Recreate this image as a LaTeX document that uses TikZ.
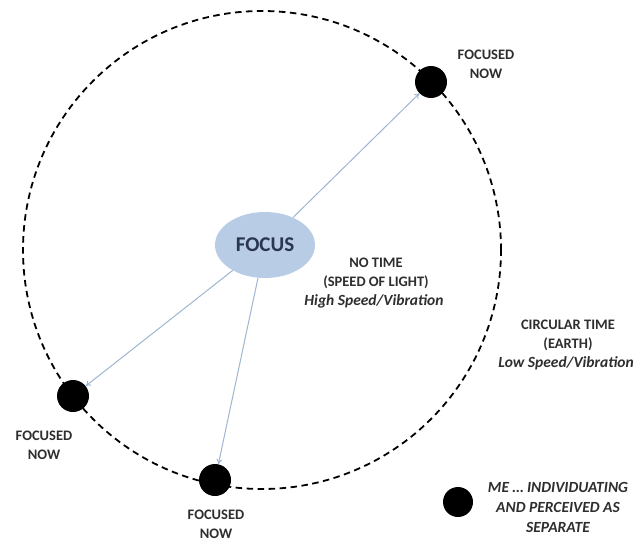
\documentclass[tikz,border=0pt]{standalone}
\usepackage{fontspec}
\setmainfont{Carlito}
\usetikzlibrary{shapes.geometric,arrows.meta}
\definecolor{focusfill}{HTML}{B8CCE6}
\definecolor{focustext}{HTML}{2A3650}
\definecolor{linkblue}{HTML}{9FB5D2}
\definecolor{labelgray}{HTML}{2E2E2E}
\begin{document}
\begin{tikzpicture}[x=1pt,y=-1pt,
  orbit/.style={circle,draw=black,line width=1.8pt,dash pattern=on 6.5pt off 4.5pt,
    minimum size=478pt,inner sep=0pt},
  medot/.style={circle,fill=black,minimum size=32pt,inner sep=0pt},
  focusnode/.style={ellipse,fill=focusfill,minimum width=100pt,minimum height=66pt,
    inner sep=0pt,font=\fontsize{21}{24}\selectfont\bfseries,text=focustext},
  link/.style={draw=linkblue,line width=1pt,-{To[length=5pt,width=6pt]}},
  lbl/.style={align=center,font=\fontsize{14.5}{19}\selectfont\bfseries,text=labelgray,inner sep=0pt},
  ilbl/.style={align=center,font=\fontsize{15.5}{20}\selectfont\bfseries\itshape,text=labelgray,inner sep=0pt}]
  \useasboundingbox (0,0) rectangle (639,543);

  % circular time ring
  \node[orbit] (ring) at (262,250) {};

  % central focus
  \node[focusnode] (focus) at (265,245) {FOCUS};

  % individuated points on the ring
  \node[medot] (top) at (431,82) {};
  \node[medot] (left) at (73,396) {};
  \node[medot] (bottom) at (215,480) {};

  \draw[link] (focus) -- (top);
  \draw[link] (focus) -- (left);
  \draw[link] (focus) -- (bottom);

  % labels
  \node[lbl] (ltop) at (486,64) {FOCUSED\\NOW};
  \node[lbl] (lleft) at (44,445) {FOCUSED\\NOW};
  \node[lbl] (lbottom) at (216,524) {FOCUSED\\NOW};

  \node[lbl] (notime) at (376,273) {NO TIME\\(SPEED OF LIGHT)};
  \node[ilbl] (high) at (374,301) {High Speed/Vibration};

  \node[lbl] (circ) at (568,335) {CIRCULAR TIME\\(EARTH)};
  \node[ilbl] (low) at (566,363) {Low Speed/Vibration};

  % legend
  \node[medot,minimum size=30pt] (key) at (458,502) {};
  \node[ilbl] (keytext) at (558,507) {ME … INDIVIDUATING\\AND PERCEIVED AS\\SEPARATE};
\end{tikzpicture}
\end{document}
